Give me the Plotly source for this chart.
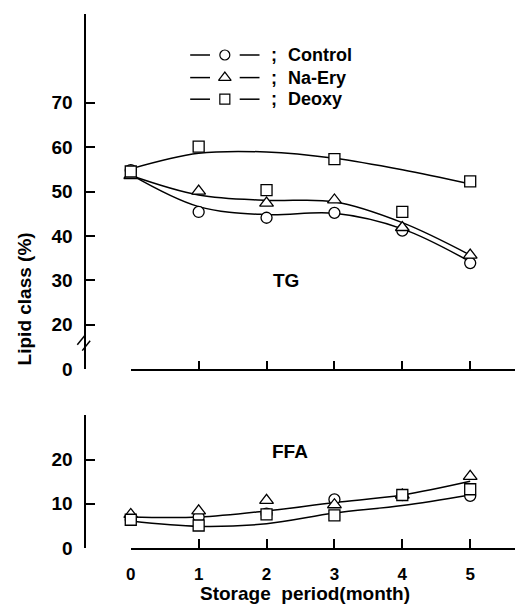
import plotly.graph_objects as go

W, H = 515, 616
FONT = "Liberation Sans, Arial, sans-serif"

months = [0, 1, 2, 3, 4, 5]

# TG panel (%): measured points
tg_control = [54.8, 45.4, 44.1, 45.2, 41.2, 33.9]
tg_naery = [53.6, 50.1, 47.4, 48.1, 41.9, 35.7]
tg_deoxy = [54.5, 60.1, 50.3, 57.3, 45.4, 52.3]
# TG panel: fitted curves
tg_control_fit = [53.8, 46.6, 44.8, 45.1, 41.6, 34.2]
tg_naery_fit = [53.6, 49.2, 48.0, 47.7, 43.0, 35.7]
tg_deoxy_fit = [55.1, 58.6, 58.9, 57.5, 54.9, 51.7]

# FFA panel (%): measured points
ffa_control = [6.4, 7.0, 7.8, 11.0, 12.0, 11.8]
ffa_naery = [7.6, 8.4, 10.8, 9.8, 12.0, 16.2]
ffa_deoxy = [6.4, 5.1, 7.6, 7.4, 12.0, 13.3]
# FFA panel: fitted curves
ffa_upper_fit = [7.0, 7.0, 8.4, 10.3, 12.0, 15.1]
ffa_lower_fit = [6.1, 4.9, 5.5, 7.9, 9.6, 12.0]

x_ticks = [0, 1, 2, 3, 4, 5]
x_ticktext = ["0", "1", "2", "3", "4", "5"]
tg_tickvals = [10, 20, 30, 40, 50, 60, 70]
tg_ticktext = ["0", "20", "30", "40", "50", "60", "70"]
ffa_tickvals = [0, 10, 20]
ffa_ticktext = ["0", "10", "20"]

series_names = ["Control", "Na-Ery", "Deoxy"]


def px(x):
    return x / W


def py(y):
    return 1 - y / H


def bold(size):
    return dict(family=FONT, size=size, color="black", weight="bold")


fig = go.Figure()

line_style = dict(color="black", width=1.5, shape="spline", smoothing=1.0)

for fit in (tg_control_fit, tg_naery_fit, tg_deoxy_fit):
    fig.add_trace(go.Scatter(x=months, y=fit, mode="lines", line=line_style,
                             xaxis="x", yaxis="y", showlegend=False, hoverinfo="skip"))
for fit in (ffa_upper_fit, ffa_lower_fit):
    fig.add_trace(go.Scatter(x=months, y=fit, mode="lines", line=line_style,
                             xaxis="x2", yaxis="y2", showlegend=False, hoverinfo="skip"))

marker_syms = ["circle", "triangle-up", "square"]
marker_sizes = [11, 12, 11]
for vals, sym, sz, nm in zip((tg_control, tg_naery, tg_deoxy), marker_syms, marker_sizes, series_names):
    fig.add_trace(go.Scatter(x=months, y=vals, mode="markers", name=nm,
                             marker=dict(symbol=sym, size=sz, color="white",
                                         line=dict(color="black", width=1.3)),
                             xaxis="x", yaxis="y", showlegend=False, cliponaxis=False))
for vals, sym, sz, nm in zip((ffa_control, ffa_naery, ffa_deoxy), marker_syms, marker_sizes, series_names):
    fig.add_trace(go.Scatter(x=months, y=vals, mode="markers", name=nm,
                             marker=dict(symbol=sym, size=sz, color="white",
                                         line=dict(color="black", width=1.3)),
                             xaxis="x2", yaxis="y2", showlegend=False, cliponaxis=False))

# legend drawn by hand (overlay axis in pixel units)
leg_rows = [56, 79, 101]
shapes = []
annotations = []
for row, sym, sz, nm in zip(leg_rows, marker_syms, marker_sizes, series_names):
    fig.add_trace(go.Scatter(x=[222], y=[row], mode="markers",
                             marker=dict(symbol=sym, size=sz - 1, color="white",
                                         line=dict(color="black", width=1.2)),
                             xaxis="x3", yaxis="y3", showlegend=False, hoverinfo="skip"))
    for x0, x1 in ((187, 207), (237, 257)):
        shapes.append(dict(type="line", xref="paper", yref="paper",
                           x0=px(x0), x1=px(x1), y0=py(row), y1=py(row),
                           line=dict(color="black", width=1.5)))
    annotations.append(dict(text=";", xref="paper", yref="paper", x=px(272), y=py(row),
                            xanchor="center", yanchor="middle", showarrow=False, font=bold(18)))
    annotations.append(dict(text=nm, xref="paper", yref="paper", x=px(284), y=py(row),
                            xanchor="left", yanchor="middle", showarrow=False, font=bold(18)))

# axis break marks
for (x0, y0, x1, y1) in ((73, 351, 81, 341), (78, 357, 86, 347)):
    shapes.append(dict(type="line", xref="paper", yref="paper",
                       x0=px(x0), y0=py(y0), x1=px(x1), y1=py(y1),
                       line=dict(color="black", width=1.5)))

annotations += [
    dict(text="TG", x=2.29, y=30, xref="x", yref="y", showarrow=False, font=bold(19)),
    dict(text="FFA", x=2.35, y=21.8, xref="x2", yref="y2", showarrow=False, font=bold(19)),
    dict(text="Storage  period(month)", xref="paper", yref="paper", x=px(303), y=0,
         xanchor="center", yanchor="bottom", borderpad=0, showarrow=False, font=bold(19)),
    dict(text="Lipid class (%)", xref="paper", yref="paper", x=px(20), y=py(304),
         xanchor="center", yanchor="middle", textangle=-90, showarrow=False, font=bold(19)),
]

xdom = [px(127), 1.0]
axis_common = dict(showline=True, linecolor="black", linewidth=1.5, showgrid=False,
                   zeroline=False, ticks="inside", ticklen=9, tickwidth=1.5, tickcolor="black",
                   fixedrange=True)

fig.update_layout(
    width=W, height=H,
    margin=dict(l=0, r=0, t=0, b=0),
    paper_bgcolor="white", plot_bgcolor="rgba(0,0,0,0)",
    showlegend=False,
    xaxis=dict(domain=xdom, anchor="y", range=[0, 5.66], tickvals=x_ticks,
               showticklabels=False, **axis_common),
    yaxis=dict(domain=[py(376), py(14)], anchor="free", position=px(81), range=[10, 90],
               tickvals=tg_tickvals, ticktext=tg_ticktext, ticklabelstandoff=8,
               tickfont=bold(19), **axis_common),
    xaxis2=dict(domain=xdom, anchor="y2", range=[0, 5.66], tickvals=x_ticks,
                ticktext=x_ticktext, ticklabelstandoff=10, tickfont=bold(17), **axis_common),
    yaxis2=dict(domain=[py(558), py(423)], anchor="free", position=px(81), range=[0, 30],
                tickvals=ffa_tickvals, ticktext=ffa_ticktext, ticklabelstandoff=8,
                tickfont=bold(19), **axis_common),
    xaxis3=dict(domain=[0, 1], anchor="y3", range=[0, W], visible=False, fixedrange=True),
    yaxis3=dict(domain=[0, 1], anchor="x3", range=[H, 0], visible=False, fixedrange=True),
    shapes=shapes,
    annotations=annotations,
)

fig.write_html("out.html", config={"displayModeBar": False},
               post_script="document.body.style.margin='0';document.body.style.overflow='hidden';")
